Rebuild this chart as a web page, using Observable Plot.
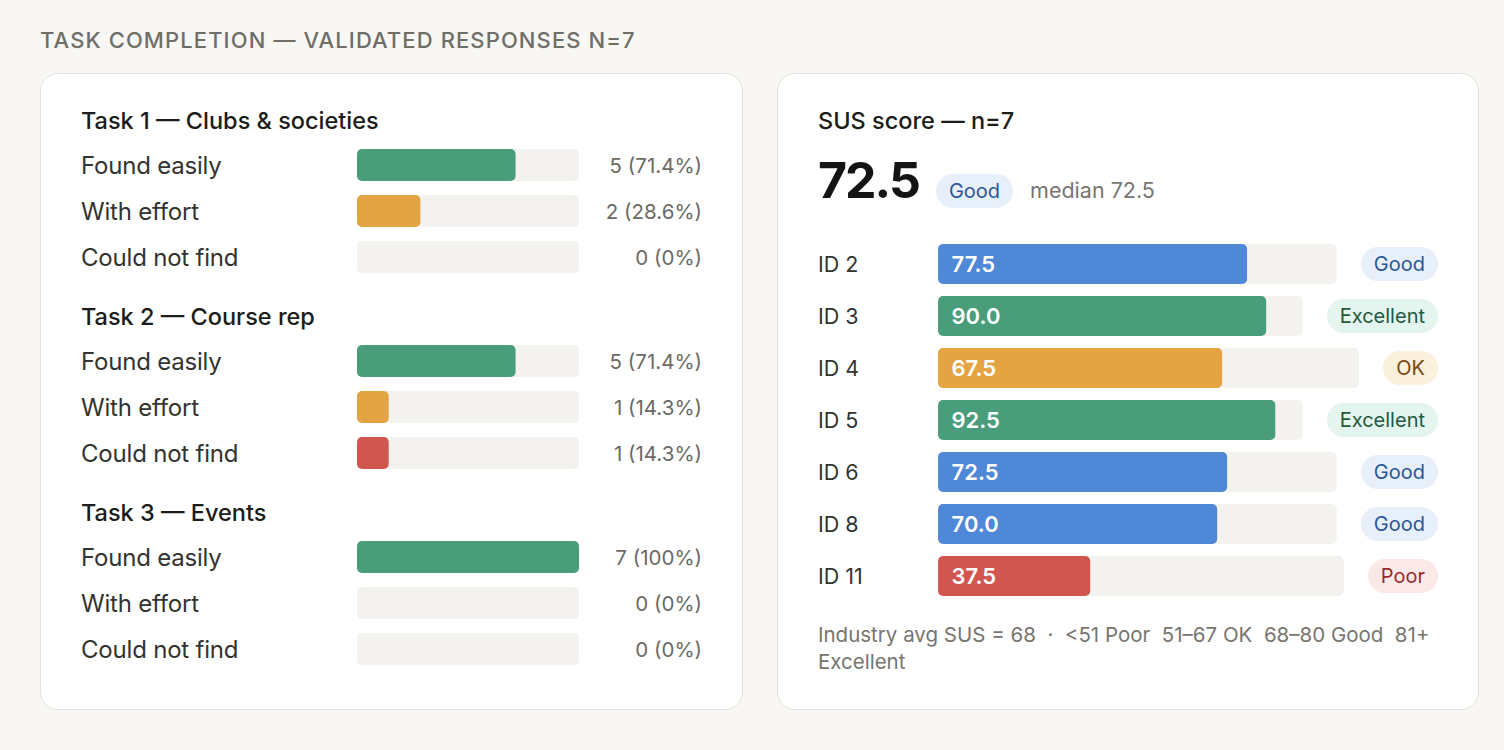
<!DOCTYPE html>
<html>
<head>
<meta charset="utf-8">
<script src="https://cdn.jsdelivr.net/npm/d3@7"></script>
<script src="https://cdn.jsdelivr.net/npm/@observablehq/plot@0.6"></script>
<style>
  html, body { margin: 0; padding: 0; background: #f8f7f4; }
  body { font-family: Inter, "Noto Sans", sans-serif; color: #1c1c1a; width: 1504px; height: 750px; overflow: hidden; }
  .page { padding: 28px 0 0 40px; }
  .kicker { font-size: 22px; line-height: 24px; font-weight: 500; letter-spacing: 1.1px; color: #6f6e68; text-transform: uppercase; margin: 0; }
  .cards { display: flex; gap: 34px; margin-top: 21px; }
  .card { box-sizing: border-box; flex: 0 0 auto; height: 637px; background: #fff; border: 1px solid #e4e1dc; border-radius: 18px; padding: 34px 40px 0 40px; }
  .card.left { width: 703px; }
  .card.right { width: 702px; }
  h3 { margin: 0; font-size: 23.5px; line-height: 26px; font-weight: 500; color: #1c1c1a; }
  .group + .group { margin-top: 24px; }
  .rows { margin-top: 8px; }
  .trow { display: flex; align-items: center; height: 46px; }
  .trow .lbl { width: 276px; font-size: 24px; color: #33332f; letter-spacing: -0.2px; }
  .trow .trk { width: 222px; height: 32px; }
  .trow .val { flex: 1; text-align: right; font-size: 20.5px; color: #6b6a65; }
  .headline { display: flex; align-items: baseline; margin-top: 14px; }
  .big { font-size: 50px; line-height: 64px; font-weight: 700; letter-spacing: -2px; color: #141413; }
  .pill { display: inline-block; border-radius: 999px; font-size: 20px; line-height: 24px; padding: 5px 13px; }
  .headline .pill { margin-left: 17px; }
  .median { margin-left: 17px; font-size: 21.5px; color: #77756f; }
  .srows { margin-top: 32px; }
  .srow { display: flex; align-items: center; height: 40px; }
  .srow + .srow { margin-top: 12px; }
  .srow .lbl { width: 120px; font-size: 21.5px; color: #33332f; }
  .srow .trk { flex: 1; height: 40px; margin-right: 24px; }
  .note { margin-top: 25px; font-size: 20.5px; line-height: 27px; color: #77756f; }
  svg { display: block; }
</style>
</head>
<body>
<div class="page">
  <p class="kicker">Task completion — validated responses n=7</p>
  <div class="cards">
    <div class="card left" id="tasks"></div>
    <div class="card right" id="sus"></div>
  </div>
</div>
<script>
// Task completion counts (out of 7 validated respondents)
const respondents = 7;
const taskNames = ["Task 1 — Clubs & societies", "Task 2 — Course rep", "Task 3 — Events"];
const outcomes = ["Found easily", "With effort", "Could not find"];
const task1Counts = [5, 2, 0];
const task2Counts = [5, 1, 1];
const task3Counts = [7, 0, 0];
const outcomeColors = ["#4a9d7a", "#e5a443", "#d1564f"];

// SUS scores per participant
const susIds = ["ID 2", "ID 3", "ID 4", "ID 5", "ID 6", "ID 8", "ID 11"];
const susScores = [77.5, 90.0, 67.5, 92.5, 72.5, 70.0, 37.5];
const susMax = 100;
const gradeNames = ["Poor", "OK", "Good", "Excellent"];
const gradeFloors = [0, 51, 68, 81];
const gradeFills = ["#d1564f", "#e5a443", "#4f88d6", "#4a9d7a"];
const gradePillBg = ["#fbe9e8", "#fbf0dc", "#e7effa", "#e4f4ee"];
const gradePillFg = ["#9b2c2c", "#7a4812", "#2b5797", "#1f5a40"];
const footnote = "Industry avg SUS = 68 \u00a0·\u00a0 <51 Poor \u00a051–67 OK \u00a068–80 Good \u00a081+ Excellent";

const TRACK = "#f3f2ee";

function gradeIndex(score) {
  let g = 0;
  gradeFloors.forEach((f, i) => { if (score >= f) g = i; });
  return g;
}

function pct(count) {
  const p = count / respondents * 100;
  const s = p.toFixed(1);
  return s.endsWith(".0") ? s.slice(0, -2) : s;
}

// One horizontal bar in a rounded track, drawn on its own linear scale
function barChart({value, max, width, height, fill, label}) {
  const marks = [
    Plot.barX([{v: max}], {x: "v", fill: TRACK, rx: 5}),
    Plot.barX([{v: value}], {x: "v", fill, rx: 5})
  ];
  if (label) {
    marks.push(Plot.text([{v: 0}], {x: "v", text: () => label, dx: 13, textAnchor: "start",
      fill: "#fff", fontSize: 22, fontWeight: 600, fontFamily: "Inter, sans-serif"}));
  }
  return Plot.plot({
    width, height, margin: 0,
    x: {domain: [0, max], range: [0, width], axis: null},
    style: {background: "transparent", overflow: "visible"},
    marks
  });
}

// Left card: task completion
const tasksEl = document.getElementById("tasks");
[task1Counts, task2Counts, task3Counts].forEach((counts, t) => {
  const g = document.createElement("div");
  g.className = "group";
  g.innerHTML = `<h3>${taskNames[t]}</h3>`;
  const rows = document.createElement("div");
  rows.className = "rows";
  counts.forEach((c, i) => {
    const r = document.createElement("div");
    r.className = "trow";
    const lbl = document.createElement("div"); lbl.className = "lbl"; lbl.textContent = outcomes[i];
    const trk = document.createElement("div"); trk.className = "trk";
    trk.appendChild(barChart({value: c, max: respondents, width: 222, height: 32, fill: outcomeColors[i]}));
    const val = document.createElement("div"); val.className = "val"; val.textContent = `${c} (${pct(c)}%)`;
    r.append(lbl, trk, val);
    rows.appendChild(r);
  });
  g.appendChild(rows);
  tasksEl.appendChild(g);
});

// Right card: SUS scores
const susEl = document.getElementById("sus");
const mean = d3.mean(susScores);
const median = d3.median(susScores);
const mg = gradeIndex(mean);
susEl.innerHTML = `<h3>SUS score — n=${susScores.length}</h3>
  <div class="headline"><span class="big">${mean.toFixed(1)}</span>
  <span class="pill" style="background:${gradePillBg[mg]};color:${gradePillFg[mg]}">${gradeNames[mg]}</span>
  <span class="median">median ${median.toFixed(1)}</span></div>`;
const srows = document.createElement("div");
srows.className = "srows";
susEl.appendChild(srows);
const tracks = [];
susScores.forEach((s, i) => {
  const gi = gradeIndex(s);
  const r = document.createElement("div");
  r.className = "srow";
  const lbl = document.createElement("div"); lbl.className = "lbl"; lbl.textContent = susIds[i];
  const trk = document.createElement("div"); trk.className = "trk";
  const pill = document.createElement("span"); pill.className = "pill";
  pill.style.background = gradePillBg[gi]; pill.style.color = gradePillFg[gi];
  pill.textContent = gradeNames[gi];
  r.append(lbl, trk, pill);
  srows.appendChild(r);
  tracks.push({trk, s, gi});
});
const note = document.createElement("div");
note.className = "note";
note.textContent = footnote;
susEl.appendChild(note);

// Track widths depend on each row's grade pill, so size the charts after layout
tracks.forEach(({trk, s, gi}) => {
  const w = Math.round(trk.getBoundingClientRect().width);
  trk.appendChild(barChart({value: s, max: susMax, width: w, height: 40, fill: gradeFills[gi], label: s.toFixed(1)}));
});
</script>
</body>
</html>
